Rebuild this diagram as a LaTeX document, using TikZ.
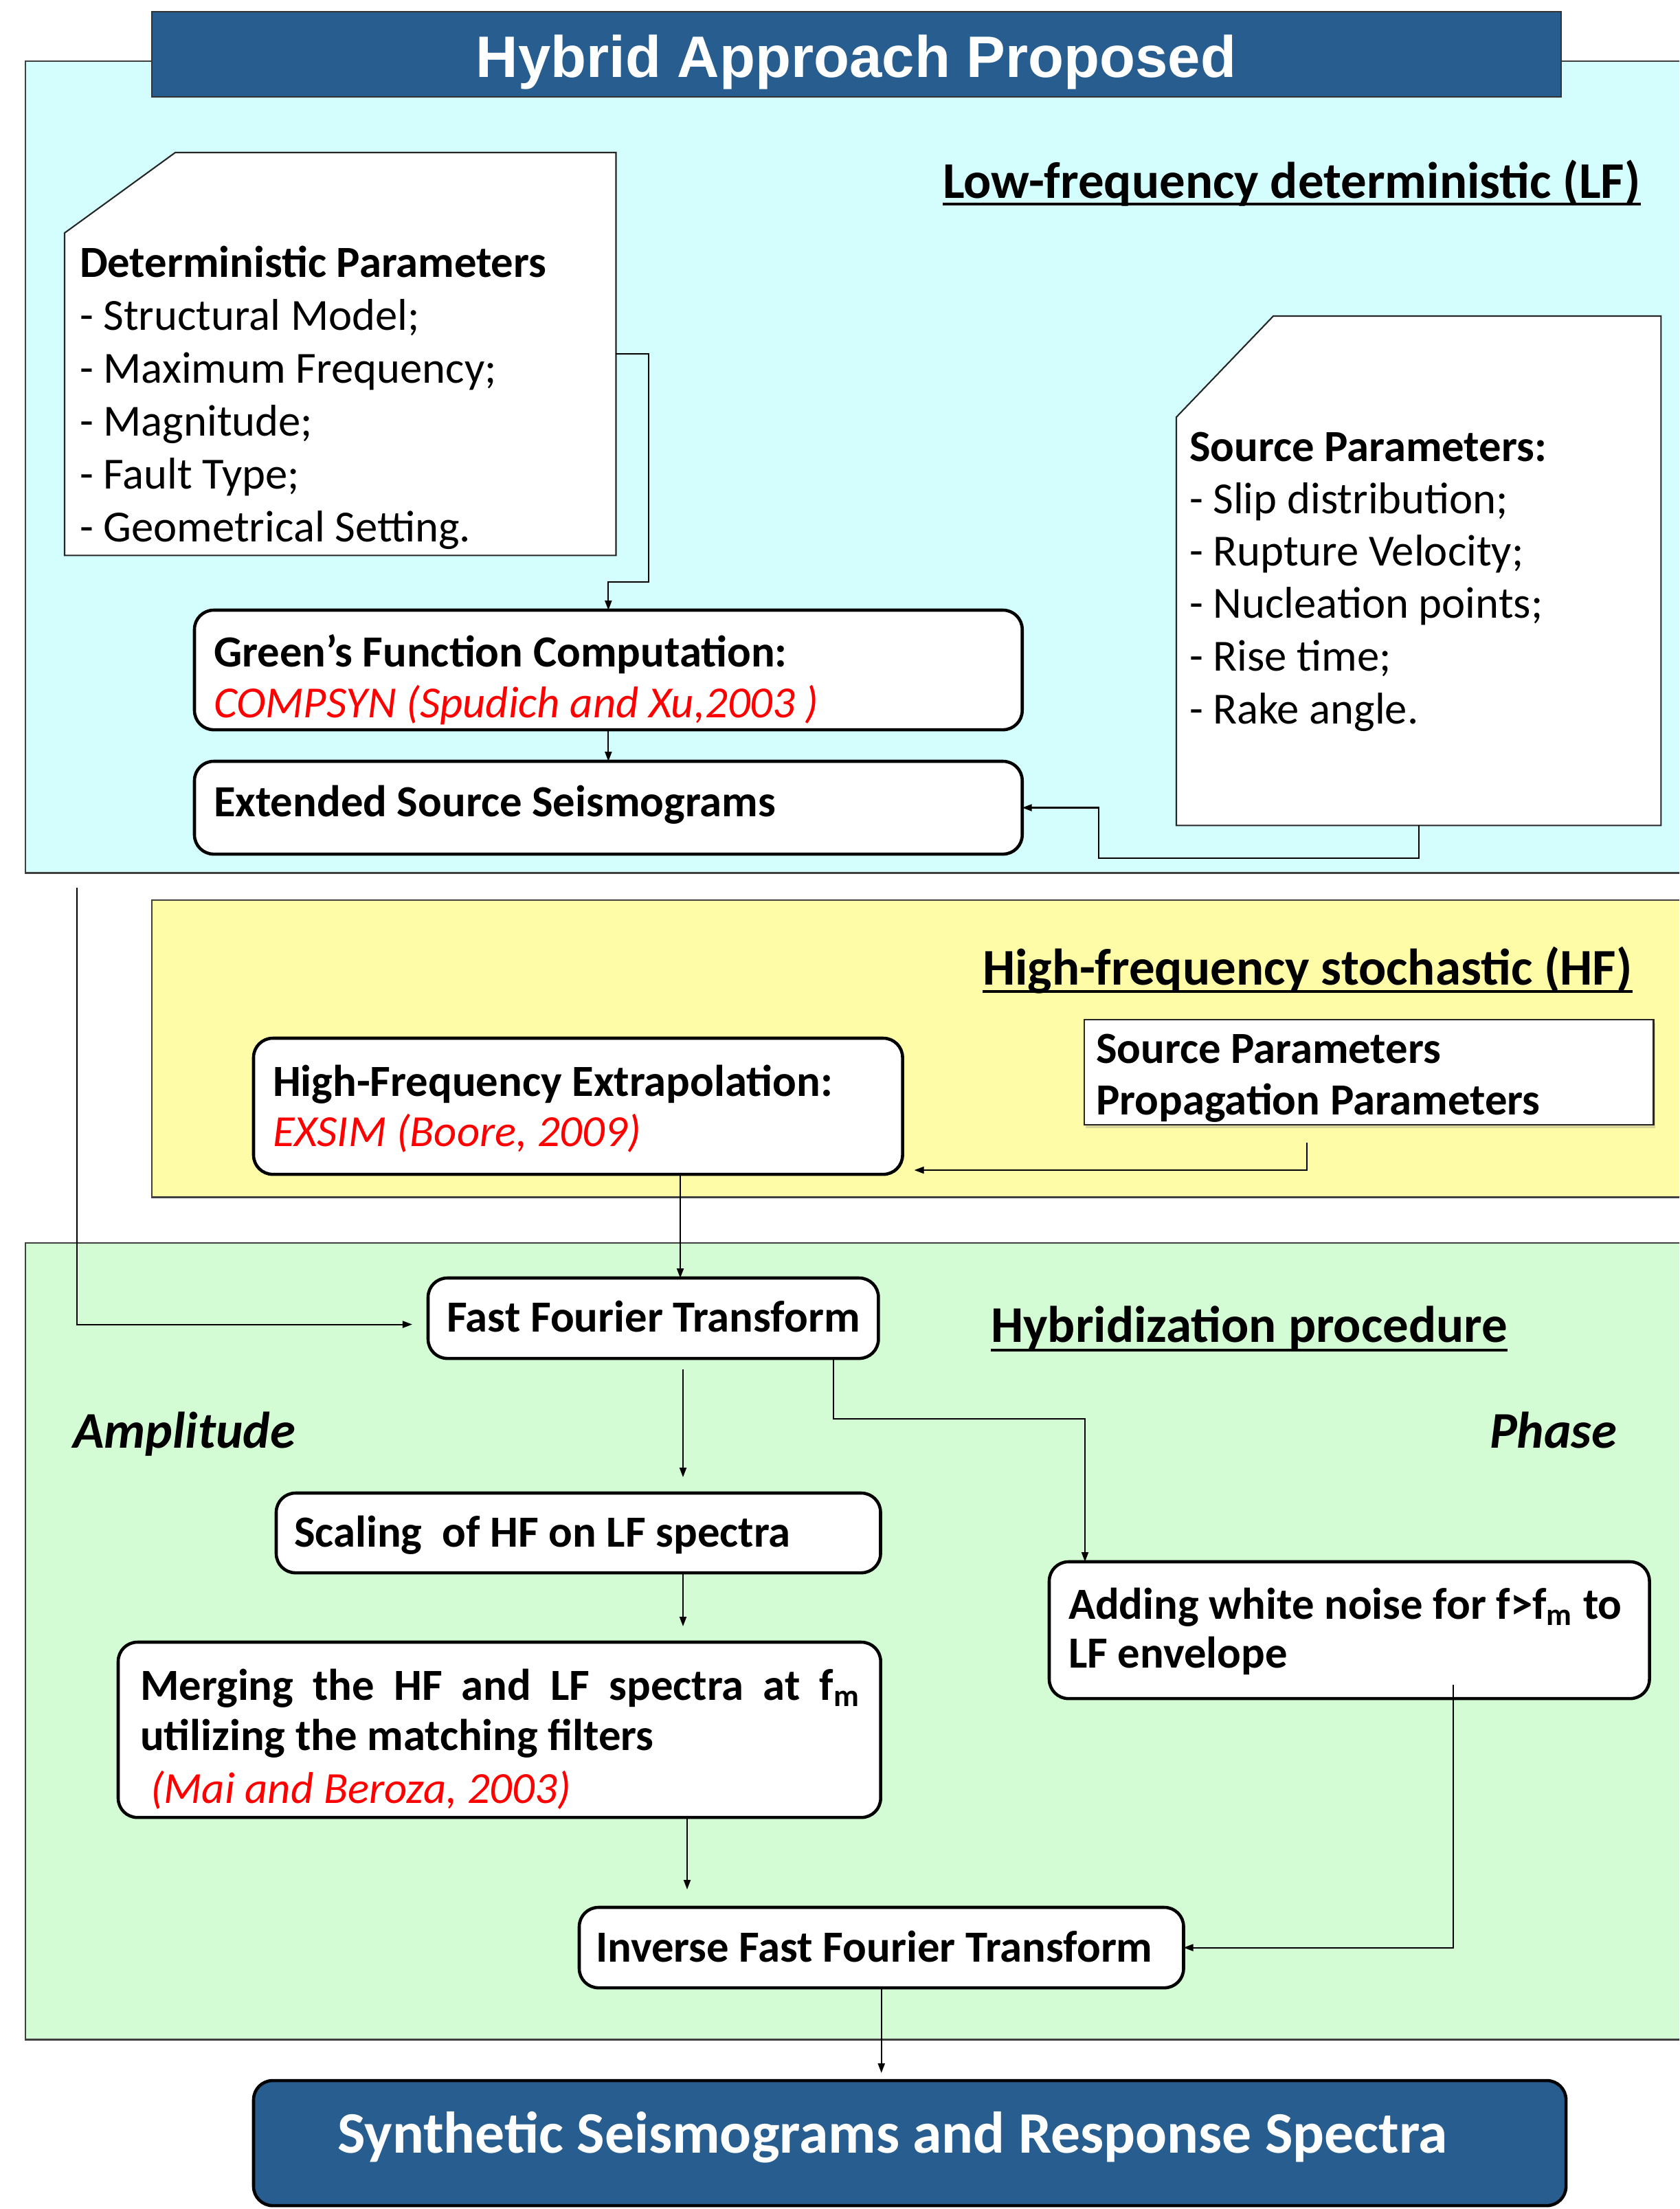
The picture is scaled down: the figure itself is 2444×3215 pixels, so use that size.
\documentclass[tikz,border=0pt]{standalone}
\usepackage{fontspec}
\setmainfont{Carlito}
\newfontfamily\arialfont{Liberation Sans}
\usetikzlibrary{arrows.meta,shadows}
\definecolor{hdrblue}{RGB}{40,93,144}
\definecolor{cyanbg}{RGB}{212,254,254}
\definecolor{yellowbg}{RGB}{255,252,168}
\definecolor{greenbg}{RGB}{212,252,212}
\newcommand{\myBody}{\fontsize{18.4pt}{22pt}\selectfont}
\newcommand{\myHdr}{\fontsize{21.3pt}{25pt}\selectfont\bfseries}
\newcommand{\mySyn}{\fontsize{24.35pt}{29pt}\selectfont\bfseries}
\newcommand{\myTitle}{\arialfont\fontsize{24.2pt}{29pt}\selectfont\bfseries}
\begin{document}
\begin{tikzpicture}[x=0.01cm,y=-0.01cm,
  panel/.style={draw=black!75, line width=0.7pt, inner sep=0, outer sep=0, anchor=north west},
  rbox/.style={draw=black, line width=1.3pt, fill=white, rounded corners=0.28cm, inner sep=0, outer sep=0, anchor=north west},
  fbox/.style={draw=none, inner sep=0, outer sep=0, anchor=north west},
  fold/.style={draw=black!85, line width=0.6pt, fill=white},
  txt/.style={anchor=base west, inner sep=0, outer sep=0, font=\myBody},
  btxt/.style={txt, font=\myBody\bfseries},
  rtxt/.style={txt, font=\myBody\itshape, text=red},
  hdr/.style={txt, font=\myHdr},
  uline/.style={line width=1.1pt},
  arr/.style={line width=0.6pt, -{Triangle[length=0.14cm,width=0.1cm]}}]
\useasboundingbox (0,0) rectangle (2444,3215);
\begin{scope}
\clip (0,0) rectangle (2444,3215);
\fill[white] (0,0) rectangle (2444,3215);
% panels
\node[panel, fill=cyanbg, minimum width=24.33cm, minimum height=11.81cm] (lfpanel) at (37,89) {};
\node[draw=black!80, line width=0.7pt, fill=hdrblue, inner sep=0, outer sep=0, anchor=north west, minimum width=20.50cm, minimum height=1.24cm] (title) at (221,17) {};
\node[panel, fill=yellowbg, minimum width=22.49cm, minimum height=4.32cm] (hfpanel) at (221,1310) {};
\node[panel, fill=greenbg, minimum width=24.33cm, minimum height=11.59cm] (hypanel) at (37,1809) {};
\end{scope}
\node[anchor=base, inner sep=0, text=white, font=\myTitle] (titletext) at (1246,113) {Hybrid Approach Proposed};

% LF section
\node[hdr] (lfhdr) at (1372,288) {Low-frequency deterministic (LF)};
\draw[uline] ([yshift=-0.09cm]lfhdr.base west) -- ([yshift=-0.09cm]lfhdr.base east);

\node[fbox, minimum width=8.02cm, minimum height=5.86cm] (det) at (94,222) {};
\draw[fold] ([xshift=1.61cm]det.north west) -- (det.north east) -- (det.south east) -- (det.south west) -- ([yshift=-1.17cm]det.north west) -- cycle;
\node[btxt] (det1) at (116,403) {Deterministic Parameters};
\node[txt] (det2) at (116,480) {- Structural Model;};
\node[txt] (det3) at (116,557) {- Maximum Frequency;};
\node[txt] (det4) at (116,634) {- Magnitude;};
\node[txt] (det5) at (116,711) {- Fault Type;};
\node[txt] (det6) at (116,788) {- Geometrical Setting.};

\node[fbox, minimum width=7.05cm, minimum height=7.41cm] (srcp) at (1712,460) {};
\draw[fold] ([xshift=1.41cm]srcp.north west) -- (srcp.north east) -- (srcp.south east) -- (srcp.south west) -- ([yshift=-1.47cm]srcp.north west) -- cycle;
\node[btxt] (src1) at (1731,671) {Source Parameters:};
\node[txt] (src2) at (1731,747) {- Slip distribution;};
\node[txt] (src3) at (1731,823) {- Rupture Velocity;};
\node[txt] (src4) at (1731,899) {- Nucleation points;};
\node[txt] (src5) at (1731,976) {- Rise time;};
\node[txt] (src6) at (1731,1053) {- Rake angle.};

\node[rbox, minimum width=12.04cm, minimum height=1.74cm] (green) at (283,888) {};
\node[btxt] (green1) at (311,970) {Green’s Function Computation:};
\node[rtxt] (green2) at (311,1044) {COMPSYN (Spudich and Xu,2003 )};

\node[rbox, minimum width=12.04cm, minimum height=1.35cm] (ext) at (283,1108) {};
\node[btxt] (ext1) at (311,1188) {Extended Source Seismograms};

% HF section
\node[hdr] (hfhdr) at (1430,1433) {High-frequency stochastic (HF)};
\draw[uline] ([yshift=-0.1cm]hfhdr.base west) -- ([yshift=-0.1cm]hfhdr.base east);

\node[rbox, minimum width=9.44cm, minimum height=1.98cm] (hfx) at (369,1511) {};
\node[btxt] (hfx1) at (397,1595) {High-Frequency Extrapolation:};
\node[rtxt] (hfx2) at (397,1668) {EXSIM (Boore, 2009)};

\node[draw=black!85, line width=0.6pt, fill=white, inner sep=0, outer sep=0, anchor=north west, minimum width=8.28cm, minimum height=1.53cm, drop shadow={shadow xshift=0.02cm, shadow yshift=-0.05cm, opacity=0.3}] (spp) at (1578,1484) {};
\node[btxt] (spp1) at (1595,1547) {Source Parameters};
\node[btxt] (spp2) at (1595,1622) {Propagation Parameters};

% Hybridization section
\node[hdr] (hyhdr) at (1442,1953) {Hybridization procedure};
\draw[uline] ([yshift=-0.12cm]hyhdr.base west) -- ([yshift=-0.12cm]hyhdr.base east);
\node[hdr, font=\myHdr\itshape] (ampl) at (106,2107) {Amplitude};
\node[hdr, font=\myHdr\itshape] (phase) at (2168,2107) {Phase};

\node[rbox, minimum width=6.55cm, minimum height=1.17cm] (fft) at (623,1860) {};
\node[btxt] (fft1) at (650,1938) {Fast Fourier Transform};

\node[rbox, minimum width=8.79cm, minimum height=1.16cm] (scal) at (402,2173) {};
\node[btxt] (scal1) at (428,2251) {Scaling\ \ of HF on LF spectra};

\node[rbox, minimum width=11.09cm, minimum height=2.55cm] (merg) at (172,2390) {};
\node[btxt] (merg1) at (204,2474) {\makebox[10.47cm][s]{Merging the HF and LF spectra at f\textsubscript{m}}};
\node[btxt] (merg2) at (204,2547) {utilizing the matching filters};
\node[rtxt] (merg3) at (219,2624) {(Mai and Beroza, 2003)};

\node[rbox, minimum width=8.73cm, minimum height=1.99cm] (add) at (1527,2273) {};
\node[btxt] (add1) at (1555,2356) {Adding white noise for f>f\textsubscript{m} to};
\node[btxt] (add2) at (1555,2427) {LF envelope};

\node[rbox, minimum width=8.79cm, minimum height=1.17cm] (ifft) at (843,2776) {};
\node[btxt] (ifft1) at (867,2855) {Inverse Fast Fourier Transform};

\node[rbox, fill=hdrblue, minimum width=19.09cm, minimum height=1.82cm] (syn) at (369,3028) {};
\node[anchor=base, inner sep=0, text=white, font=\mySyn] (syn1) at (1299,3133) {Synthetic Seismograms and Response Spectra};

% junction coordinates
\coordinate (j1) at (944,847);
\coordinate (j2) at (1599,1249);
\coordinate (j3) at (112,1292);
\coordinate (j4) at (990,0);
\coordinate (j5) at (1902,1703);
\coordinate (j6) at (994,0);
\coordinate (j7) at (1213,2065);
\coordinate (j8) at (1579,2065);
\coordinate (j9) at (1000,0);
\coordinate (j10) at (2115,0);

% connectors
\draw[arr] (det.east) -| (j1) -| (green.north);
\draw[arr] (green.south) -- (ext.north);
\draw[arr] (srcp.south) |- (j2) |- (ext.east);
\draw[arr, shorten >=0.23cm] (j3) |- ([yshift=-0.09cm]fft.west);
\draw[arr] (hfx.south -| j4) -- (fft.north -| j4);
\draw[arr, shorten <=0.26cm, shorten >=0.17cm] (spp.south -| j5) -- (j5) -- (hfx.east |- j5);
\draw[arr, shorten <=0.16cm, shorten >=0.23cm] (fft.south -| j6) -- (scal.north -| j6);
\draw[arr] (fft.south -| j7) -- (j7) -- (j8) -- (add.north -| j8);
\draw[arr, shorten >=0.23cm] (scal.south -| j6) -- (merg.north -| j6);
\draw[arr, shorten >=0.26cm] (merg.south -| j9) -- (ifft.north -| j9);
\draw[arr, shorten <=-0.2cm] (add.south -| j10) |- (ifft.east);
\draw[arr, shorten >=0.11cm] (ifft.south) -- (ifft.south |- syn.north);
\end{tikzpicture}
\end{document}
